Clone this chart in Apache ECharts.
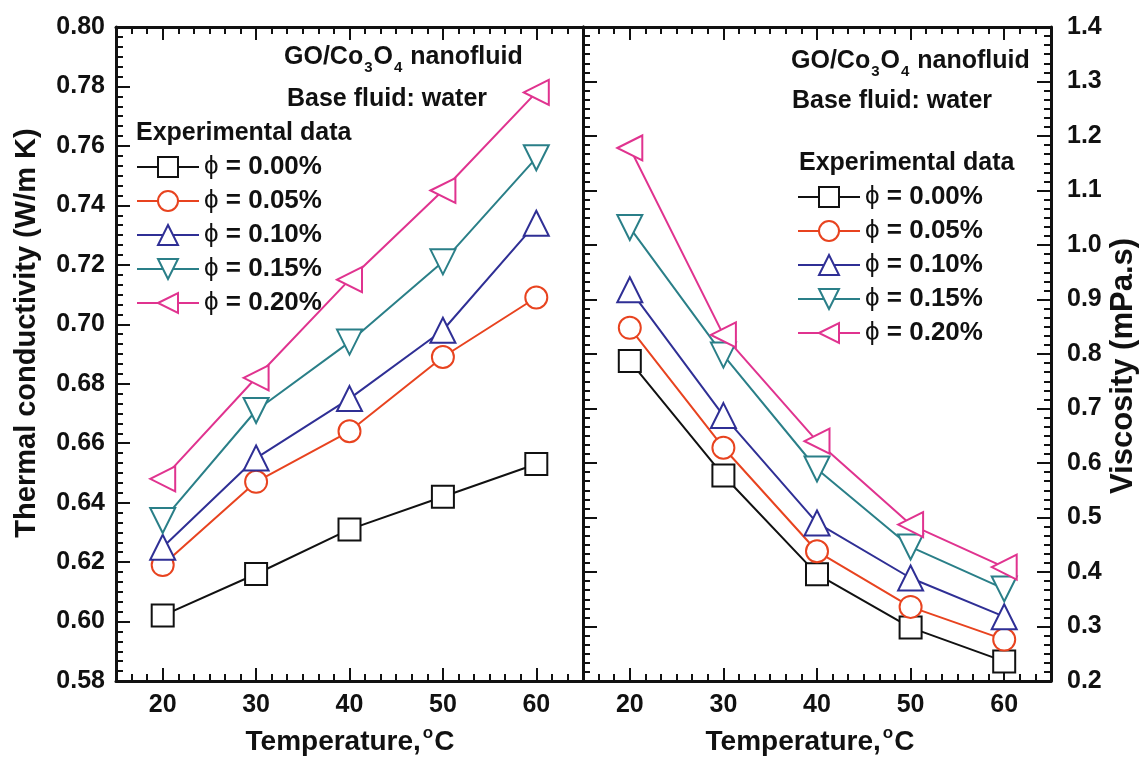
<!DOCTYPE html>
<html>
<head>
<meta charset="utf-8">
<title>GO/Co3O4 nanofluid</title>
<script src="https://cdn.jsdelivr.net/npm/echarts@6/dist/echarts.min.js"></script>
<style>
    html, body { margin: 0; padding: 0; background: #fff; }
    #chart { width: 1139px; height: 765px; }
</style>
</head>
<body>
<div id="chart"></div>
<script>
// Data
const temperatures = [20, 30, 40, 50, 60];
const xTickLabels = [20, 30, 40, 50, 60];
const fractionNames = ['ϕ = 0.00%', 'ϕ = 0.05%', 'ϕ = 0.10%', 'ϕ = 0.15%', 'ϕ = 0.20%'];

// Thermal conductivity (W/m K)
const k000 = [0.602, 0.616, 0.631, 0.642, 0.653];
const k005 = [0.619, 0.647, 0.664, 0.689, 0.709];
const k010 = [0.625, 0.655, 0.675, 0.698, 0.734];
const k015 = [0.634, 0.671, 0.694, 0.721, 0.756];
const k020 = [0.648, 0.682, 0.715, 0.745, 0.778];

// Viscosity (mPa.s)
const mu000 = [0.787, 0.577, 0.396, 0.298, 0.236];
const mu005 = [0.848, 0.628, 0.438, 0.336, 0.276];
const mu010 = [0.918, 0.687, 0.490, 0.389, 0.318];
const mu015 = [1.032, 0.798, 0.589, 0.446, 0.369];
const mu020 = [1.178, 0.835, 0.640, 0.487, 0.409];

const colors = ['#111111', '#e8431f', '#2f2f95', '#2a7f88', '#e0338f'];
const symbols = ['emptyRect', 'emptyCircle', 'emptyTriangle', 'emptyTriangle', 'emptyTriangle'];
const symbolRotates = [0, 0, 0, 180, 90];

const FONT = '"Liberation Sans", Arial, Helvetica, sans-serif';
const INK = '#111111';

/**
 * Build the four x axes (major/minor, bottom/top) of one panel
 */
function panelXAxes(gridIndex) {
    const base = {
        type: 'value',
        gridIndex: gridIndex,
        min: 15,
        max: 65,
        splitLine: { show: false }
    };
    const major = (position, showLabel) => Object.assign({}, base, {
        position: position,
        interval: 5,
        axisLine: { show: true, onZero: false, lineStyle: { color: INK, width: 3 } },
        axisTick: { show: true, inside: true, length: 13, customValues: xTickLabels, lineStyle: { color: INK, width: 2 } },
        axisLabel: {
            show: showLabel,
            customValues: xTickLabels,
            margin: 12,
            color: INK,
            fontSize: 25,
            fontWeight: 'bold',
            fontFamily: FONT,
            formatter: v => (v % 10 === 0 ? String(v) : '')
        }
    });
    const minor = (position) => Object.assign({}, base, {
        position: position,
        interval: 5 / 3,
        axisLine: { show: false, onZero: false },
        axisTick: { show: true, inside: true, length: 7, lineStyle: { color: INK, width: 2 } },
        axisLabel: { show: false }
    });
    return [major('bottom', true), minor('bottom'), major('top', false), minor('top')];
}

/**
 * Build a y axis with inside ticks and minor ticks
 */
function valueYAxis(gridIndex, position, min, max, interval, digits, showLabel, margin) {
    return {
        type: 'value',
        gridIndex: gridIndex,
        position: position,
        min: min,
        max: max,
        interval: interval,
        splitLine: { show: false },
        axisLine: { show: true, onZero: false, lineStyle: { color: INK, width: 3 } },
        axisTick: { show: true, inside: true, length: 14, lineStyle: { color: INK, width: 2 } },
        minorTick: { show: true, splitNumber: 6, length: 7, lineStyle: { color: INK, width: 2 } },
        axisLabel: {
            show: showLabel,
            margin: margin,
            color: INK,
            fontSize: 25,
            fontWeight: 'bold',
            fontFamily: FONT,
            formatter: v => v.toFixed(digits)
        }
    };
}

function makeSeries(name, values, idx, xAxisIndex, yAxisIndex) {
    return {
        name: name,
        type: 'line',
        xAxisIndex: xAxisIndex,
        yAxisIndex: yAxisIndex,
        data: temperatures.map((t, i) => [t, values[i]]),
        symbol: symbols[idx],
        symbolRotate: symbolRotates[idx],
        symbolSize: idx >= 2 ? 25 : 22,
        showAllSymbol: true,
        color: colors[idx],
        lineStyle: { color: colors[idx], width: 2 },
        itemStyle: { color: colors[idx], borderWidth: 2 },
        emphasis: { disabled: true },
        animation: false
    };
}

function makeLegend(left, top) {
    return {
        data: fractionNames,
        orient: 'vertical',
        left: left,
        top: top,
        itemWidth: 62,
        itemHeight: 25,
        itemGap: 8,
        padding: 0,
        formatter: name => '{p|ϕ}{t|' + name.slice(1) + '}',
        textStyle: {
            color: INK,
            fontSize: 26,
            fontWeight: 'bold',
            fontFamily: FONT,
            rich: {
                p: { fontSize: 26, fontWeight: 'normal', fontFamily: FONT, color: INK },
                t: { fontSize: 26, fontWeight: 'bold', fontFamily: FONT, color: INK }
            }
        }
    };
}

function plainText(x, y, text) {
    return {
        type: 'text',
        x: x,
        y: y,
        style: {
            text: text,
            fill: INK,
            font: 'bold 25px ' + FONT,
            align: 'left',
            verticalAlign: 'middle'
        }
    };
}

function nanofluidText(x, y) {
    return {
        type: 'text',
        x: x,
        y: y,
        style: {
            text: '{n|GO/Co}{s|3}{n|O}{s|4}{n| nanofluid}',
            fill: INK,
            align: 'left',
            verticalAlign: 'middle',
            rich: {
                n: { fontSize: 25, fontWeight: 'bold', fontFamily: FONT, fill: INK },
                s: { fontSize: 15, fontWeight: 'bold', fontFamily: FONT, fill: INK, padding: [22, 1, 0, 1] }
            }
        }
    };
}

function temperatureText(x, y) {
    return {
        type: 'text',
        x: x,
        y: y,
        style: {
            text: '{n|Temperature,}{s|o}{n|C}',
            fill: INK,
            align: 'center',
            verticalAlign: 'middle',
            rich: {
                n: { fontSize: 28, fontWeight: 'bold', fontFamily: FONT, fill: INK },
                s: { fontSize: 17, fontWeight: 'bold', fontFamily: FONT, fill: INK, padding: [0, 1, 18, 2] }
            }
        }
    };
}

function verticalName(x, y, text, size) {
    return {
        type: 'text',
        x: x,
        y: y,
        rotation: Math.PI / 2,
        style: {
            text: text,
            fill: INK,
            font: 'bold ' + size + 'px ' + FONT,
            align: 'center',
            verticalAlign: 'middle'
        }
    };
}

const chart = echarts.init(document.getElementById('chart'), null, { renderer: 'canvas' });

const conductivitySets = [k000, k005, k010, k015, k020];
const viscositySets = [mu000, mu005, mu010, mu015, mu020];

const series = [];
conductivitySets.forEach((vals, i) => series.push(makeSeries(fractionNames[i], vals, i, 0, 0)));
viscositySets.forEach((vals, i) => series.push(makeSeries(fractionNames[i], vals, i, 4, 2)));

const option = {
    backgroundColor: '#ffffff',
    animation: false,
    grid: [
        { left: 116, top: 27, width: 467, height: 654 },
        { left: 583, top: 27, width: 468, height: 654 }
    ],
    xAxis: panelXAxes(0).concat(panelXAxes(1)),
    yAxis: [
        valueYAxis(0, 'left', 0.58, 0.80, 0.02, 2, true, 11),
        {
            type: 'value', gridIndex: 0, position: 'right', min: 0.58, max: 0.80,
            splitLine: { show: false },
            axisLine: { show: true, onZero: false, lineStyle: { color: INK, width: 3 } },
            axisTick: { show: false },
            axisLabel: { show: false }
        },
        valueYAxis(1, 'right', 0.2, 1.4, 0.1, 1, true, 16),
        valueYAxis(1, 'left', 0.2, 1.4, 0.1, 1, false, 8)
    ],
    legend: [makeLegend(136, 154), makeLegend(797, 184)],
    graphic: [
        nanofluidText(284, 57),
        plainText(287, 99, 'Base fluid: water'),
        plainText(136, 133, 'Experimental data'),
        nanofluidText(791, 61),
        plainText(792, 101, 'Base fluid: water'),
        plainText(799, 163, 'Experimental data'),
        temperatureText(350, 742),
        temperatureText(810, 742),
        verticalName(27, 333, 'Thermal conductivity (W/m K)', 29),
        verticalName(1123, 366, 'Viscosity (mPa.s)', 31)
    ],
    series: series
};

chart.setOption(option);
</script>
</body>
</html>
